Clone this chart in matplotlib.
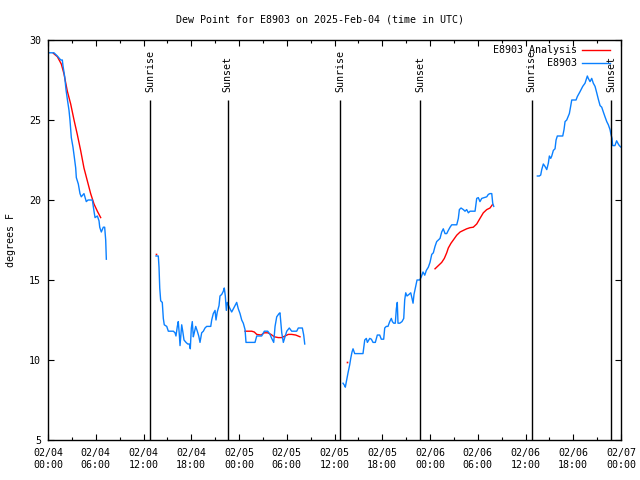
import matplotlib
matplotlib.use("Agg")
import matplotlib.pyplot as plt
import matplotlib.dates as mdates
import numpy as np
import pandas as pd

start = pd.Timestamp("2025-02-04 00:00")

# observed dew point (hours since 02/04 00:00 UTC, deg F), four gaps -> four pieces
obs_h = [
    [0.00, 0.75, 1.17, 1.60, 1.80, 1.88, 2.10, 2.26, 2.43, 2.64, 2.76, 2.93, 3.14, 3.30, 3.48, 3.56,
     3.81, 4.02, 4.18, 4.52, 4.81, 5.03, 5.57, 5.78, 5.91, 6.20, 6.41, 6.50, 6.70, 6.95, 7.12, 7.25, 7.33],
    [13.57, 13.86, 13.95, 14.04, 14.16, 14.36, 14.49, 14.61, 14.92, 15.12, 15.75, 15.96, 16.08, 16.25,
     16.37, 16.50, 16.59, 16.80, 16.93, 17.09, 17.34, 17.56, 17.76, 17.88, 18.01, 18.13, 18.26, 18.38,
     18.56, 18.76, 18.94, 19.10, 19.31, 19.52, 19.73, 19.94, 20.45, 20.57, 20.77, 20.99, 21.11, 21.27,
     21.49, 21.61, 21.83, 22.03, 22.15, 22.28, 22.41, 22.53, 22.78, 23.08, 23.29, 23.50, 23.71, 23.91,
     24.13, 24.34, 24.54, 24.76, 24.88, 26.01, 26.23, 26.85, 27.18, 27.61, 27.90, 28.11, 28.36, 28.53,
     28.74, 29.03, 29.15, 29.37, 29.57, 29.78, 30.00, 30.32, 30.62, 31.25, 31.45, 31.96, 32.13, 32.26],
    [37.07, 37.28, 37.36, 37.49, 37.70, 37.91, 38.04, 38.20, 38.33, 38.54, 39.58, 39.80, 40.00, 40.13,
     40.43, 40.63, 40.84, 41.13, 41.38, 41.68, 41.88, 42.18, 42.31, 42.51, 42.72, 42.94, 43.14, 43.27,
     43.44, 43.64, 43.77, 43.89, 43.98, 44.20, 44.48, 44.70, 44.82, 44.95, 45.11, 45.36, 45.58, 45.74,
     45.87, 45.99, 46.16, 46.37, 46.71, 46.91, 47.12, 47.34, 47.54, 47.79, 48.00, 48.22, 48.42, 48.63,
     48.84, 49.05, 49.26, 49.47, 49.67, 49.89, 50.10, 50.30, 50.52, 50.73, 51.36, 51.56, 51.69, 51.90,
     52.19, 52.40, 52.61, 52.82, 53.03, 53.66, 53.87, 54.07, 54.28, 54.50, 55.13, 55.33, 55.54, 55.76,
     55.88, 56.01],
    [61.49, 61.74, 61.91, 62.04, 62.24, 62.45, 62.67, 62.87, 63.00, 63.17, 63.30, 63.50, 63.71, 63.84,
     64.00, 64.68, 64.84, 64.97, 65.18, 65.51, 65.69, 65.81, 66.35, 66.51, 66.85, 67.19, 67.48, 67.77,
     67.89, 68.11, 68.32, 68.52, 68.74, 68.95, 69.15, 69.37, 69.58, 69.78, 69.99, 70.21, 70.41, 70.62,
     70.74, 70.87, 70.95, 71.24, 71.45, 71.66, 71.79, 72.00],
]
obs_v = [
    [29.2, 29.2, 29.0, 28.75, 28.75, 28.4, 27.7, 26.9, 26.3, 25.6, 25.0, 23.9, 23.3, 22.7, 22.0, 21.4,
     21.0, 20.4, 20.2, 20.4, 19.9, 20.0, 20.0, 19.3, 18.9, 19.0, 18.7, 18.3, 18.0, 18.3, 18.3, 17.5, 16.3],
    [16.5, 16.5, 15.8, 14.5, 13.7, 13.6, 12.6, 12.2, 12.1, 11.8, 11.8, 11.7, 11.5, 12.1,
     12.4, 11.6, 10.9, 12.2, 11.8, 11.25, 11.1, 11.0, 11.0, 10.7, 12.0, 12.4, 11.45, 11.7,
     12.1, 11.8, 11.5, 11.1, 11.7, 11.8, 12.0, 12.1, 12.1, 12.5, 12.9, 13.1, 12.5, 13.0,
     13.4, 14.0, 14.1, 14.3, 14.5, 14.0, 13.1, 13.6, 13.3, 13.0, 13.2, 13.4, 13.6, 13.2,
     12.9, 12.5, 12.3, 11.9, 11.1, 11.1, 11.5, 11.5, 11.8, 11.8, 11.6, 11.35, 11.1, 12.1,
     12.7, 12.9, 12.95, 11.7, 11.1, 11.45, 11.8, 12.0, 11.8, 11.8, 12.0, 12.0, 11.56, 11.0],
    [8.55, 8.4, 8.3, 8.65, 9.2, 9.7, 10.1, 10.5, 10.7, 10.4, 10.4, 11.25, 11.35, 11.1,
     11.35, 11.3, 11.1, 11.1, 11.56, 11.56, 11.3, 11.3, 12.0, 12.1, 12.1, 12.4, 12.6, 12.4,
     12.3, 12.3, 13.2, 13.6, 12.3, 12.3, 12.4, 12.6, 13.75, 14.2, 14.0, 14.1, 14.2, 13.85,
     13.55, 14.1, 14.5, 15.0, 15.0, 15.2, 15.5, 15.3, 15.6, 15.8, 16.1, 16.6, 16.7, 17.1,
     17.4, 17.5, 17.6, 18.0, 18.2, 17.9, 17.9, 18.1, 18.3, 18.45, 18.45, 18.85, 19.4, 19.5,
     19.4, 19.3, 19.4, 19.2, 19.3, 19.3, 20.1, 20.15, 19.9, 20.1, 20.2, 20.35, 20.4, 20.4,
     19.8, 19.6],
    [21.5, 21.5, 21.56, 21.9, 22.25, 22.1, 21.9, 22.3, 22.75, 22.6, 22.75, 23.1, 23.2, 23.75,
     24.0, 24.0, 24.4, 24.9, 25.0, 25.4, 25.9, 26.25, 26.25, 26.46, 26.77, 27.1, 27.3, 27.75,
     27.6, 27.4, 27.6, 27.3, 27.1, 26.7, 26.3, 25.9, 25.8, 25.5, 25.2, 24.9, 24.7, 24.4,
     24.1, 23.85, 23.4, 23.4, 23.7, 23.5, 23.4, 23.3],
]

# analysis
ana_h = [
    [0.67, 1.17, 1.67, 2.00, 2.43, 2.85, 3.27, 3.68, 4.10, 4.52, 4.94, 5.36, 5.78, 6.20, 6.62],
    [13.57],
    [24.76, 25.60, 25.92, 26.23, 26.77, 27.18, 27.61, 28.02, 28.44, 28.94, 29.37, 29.78, 30.20,
     30.62, 31.13, 31.67],
    [37.61],
    [48.63, 49.05, 49.47, 49.80, 50.10, 50.30, 50.64, 50.93, 51.36, 51.78, 52.19, 52.61, 53.03,
     53.44, 53.87, 54.28, 54.70, 55.13, 55.54, 55.83],
]
ana_v = [
    [29.17, 28.96, 28.5, 27.9, 26.8, 26.0, 25.0, 24.1, 23.1, 22.0, 21.2, 20.4, 19.75, 19.3, 18.9],
    [16.6],
    [11.8, 11.8, 11.75, 11.6, 11.56, 11.7, 11.7, 11.6, 11.45, 11.4, 11.4, 11.5, 11.6,
     11.6, 11.56, 11.45],
    [9.9],
    [15.7, 15.9, 16.1, 16.35, 16.7, 17.0, 17.3, 17.5, 17.8, 18.0, 18.1, 18.2, 18.27,
     18.3, 18.5, 18.85, 19.2, 19.4, 19.5, 19.7],
]

sun_h = [12.82, 22.6, 36.75, 46.8, 60.8, 70.75]
sun_lbl = ["Sunrise", "Sunset", "Sunrise", "Sunset", "Sunrise", "Sunset"]

RED = "#ff0000"
BLUE = "#0a80ff"
FONT = "DejaVu Sans Mono"
plt.rcParams["font.family"] = FONT
plt.rcParams["font.size"] = 7.2


def to_time(hours):
    return start + pd.to_timedelta(np.asarray(hours), unit="h")


fig = plt.figure(figsize=(6.4, 4.8), dpi=100)
ax = fig.add_axes([48 / 640, 40 / 480, 573 / 640, 400 / 480])

for i, (h, v) in enumerate(zip(ana_h, ana_v)):
    if len(h) == 1:
        ax.plot(to_time(h), v, "s", color=RED, ms=1.2, mew=0)
    else:
        ax.plot(to_time(h), v, color=RED, lw=1.0, label="E8903 Analysis" if i == 0 else None)

for i, (h, v) in enumerate(zip(obs_h, obs_v)):
    ax.plot(to_time(h), v, color=BLUE, lw=1.0, label="E8903" if i == 0 else None)

for h, lbl in zip(sun_h, sun_lbl):
    t = to_time([h])[0]
    ax.vlines(t, 5, 26.25, color="black", lw=1.0)
    ax.text(t, 26.75, lbl, rotation=90, ha="center", va="bottom", fontsize=7.2)

ax.set_xlim(to_time([0])[0], to_time([72])[0])
ax.set_ylim(5, 30)
ax.set_yticks(range(5, 31, 5))
ax.xaxis.set_major_locator(mdates.HourLocator(byhour=range(0, 24, 6)))
ax.xaxis.set_minor_locator(mdates.HourLocator(byhour=range(0, 24, 3)))
ax.xaxis.set_major_formatter(mdates.DateFormatter("%m/%d\n%H:%M"))
ax.tick_params(which="both", direction="in", top=True, right=True, width=0.8)
ax.tick_params(which="major", length=4.5, pad=6)
ax.tick_params(which="minor", length=2.5)
ax.tick_params(axis="y", pad=5)
for s in ax.spines.values():
    s.set_linewidth(1.0)

ax.set_ylabel("degrees F", labelpad=9.5)
fig.text(0.5, 1 - 20 / 480, "Dew Point for E8903 on 2025-Feb-04 (time in UTC)",
         ha="center", va="center", fontsize=7.2)

leg = ax.legend(loc="upper right", bbox_to_anchor=(0.99, 1.0), frameon=False, markerfirst=False,
                handlelength=2.8, handletextpad=0.5, labelspacing=0.3, borderaxespad=0.15,
                fontsize=7.2)

fig.savefig("out.png", dpi=100)
